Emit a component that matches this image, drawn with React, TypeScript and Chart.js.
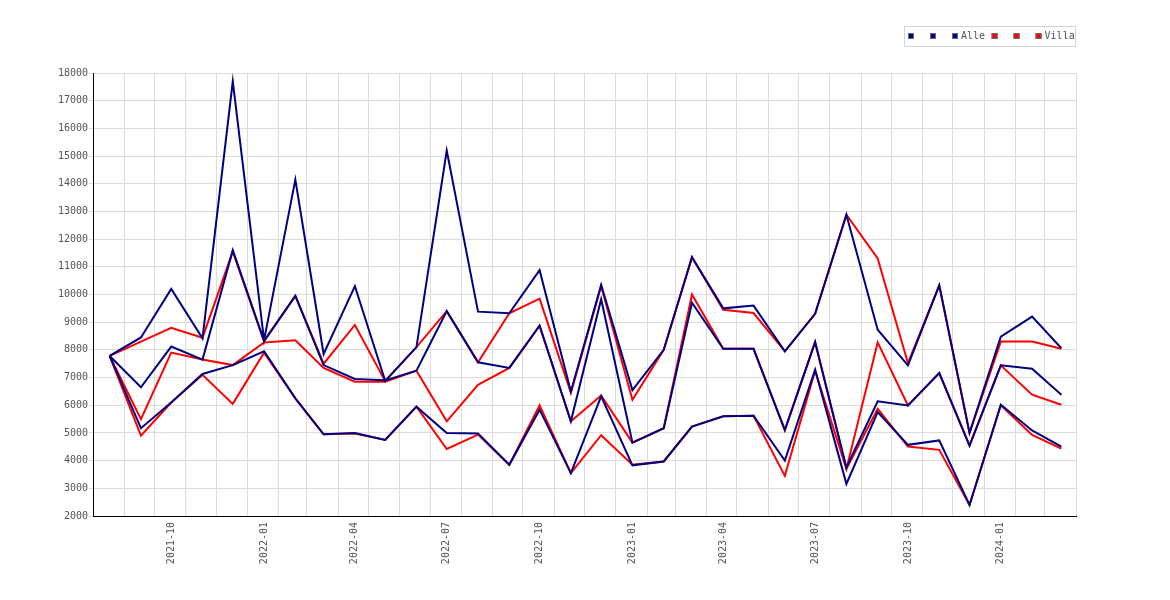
import React, { useEffect, useRef } from 'react';
import { Chart, registerables } from 'chart.js';

Chart.register(...registerables);

// ---------- data ----------
const months = [
  '2021-08', '2021-09', '2021-10', '2021-11', '2021-12',
  '2022-01', '2022-02', '2022-03', '2022-04', '2022-05', '2022-06', '2022-07', '2022-08', '2022-09', '2022-10', '2022-11', '2022-12',
  '2023-01', '2023-02', '2023-03', '2023-04', '2023-05', '2023-06', '2023-07', '2023-08', '2023-09', '2023-10', '2023-11', '2023-12',
  '2024-01', '2024-02', '2024-03',
];

const tickLabels = ['2021-10', '2022-01', '2022-04', '2022-07', '2022-10', '2023-01', '2023-04', '2023-07', '2023-10', '2024-01'];

const alleMax = [7780, 8450, 10200, 8420, 17700, 8350, 14150, 7850, 10300, 6880, 8100, 15200, 9380, 9320, 10880, 6500, 10350, 6550, 8000, 11350, 9500, 9600, 7950, 9300, 12880, 8730, 7440, 10330, 5000, 8480, 9200, 8060];
const alleMid = [7780, 6650, 8120, 7650, 11600, 8330, 9950, 7450, 6950, 6900, 7250, 9400, 7550, 7350, 8870, 5420, 9830, 4650, 5170, 9700, 8040, 8040, 5100, 8280, 3750, 6140, 5990, 7160, 4540, 7440, 7320, 6380];
const alleMin = [7780, 5170, 6100, 7130, 7450, 7950, 6250, 4950, 5000, 4750, 5950, 5000, 4980, 3850, 5840, 3550, 6320, 3830, 3970, 5230, 5600, 5620, 4000, 7280, 3160, 5750, 4570, 4730, 2400, 6020, 5090, 4510];

const villaMax = [7780, 8300, 8800, 8440, 11550, 8300, 9950, 7500, 8900, 6870, 8100, 9400, 7550, 9320, 9850, 6450, 10300, 6200, 8000, 11350, 9450, 9330, 7950, 9300, 12880, 11300, 7520, 10330, 5000, 8300, 8300, 8040];
const villaMid = [7780, 5500, 7900, 7650, 7450, 8270, 8350, 7350, 6850, 6850, 7250, 5420, 6740, 7350, 8870, 5420, 6350, 4650, 5170, 10000, 8040, 8040, 5100, 8280, 3700, 8270, 5990, 7160, 4540, 7440, 6380, 6020];
const villaMin = [7780, 4900, 6100, 7100, 6050, 7900, 6250, 4950, 4980, 4750, 5950, 4420, 4940, 3850, 6000, 3550, 4920, 3850, 3970, 5230, 5600, 5620, 3450, 7250, 3700, 5870, 4510, 4390, 2400, 6000, 4930, 4430];

const seriesLabels = ['', '', 'Alle', '', '', 'Villa'];

// ---------- styling ----------
const NAVY = '#000080';
const RED = '#ff0000';
const GRID = '#dcdcdc';
const TEXT = '#555555';
const FONT = '"DejaVu Sans Mono", "Liberation Mono", monospace';
const DAY = 86400000;

function monthStart(label: string, add = 0): number {
  const [y, m] = label.split('-').map(Number);
  return Date.UTC(y, m - 1 + add, 1);
}
function midMonth(label: string): number {
  return monthStart(label) + 16.5 * DAY;
}

const xMin = monthStart(months[0]);
const xMax = monthStart(months[months.length - 1], 1);

const gridTicks: number[] = months.map((m) => monthStart(m, 1));
const labelMap = new Map<number, string>();
tickLabels.forEach((l) => labelMap.set(midMonth(l), l));
const allTicks = [...gridTicks, ...Array.from(labelMap.keys())].sort((a, b) => a - b);
const gridSet = new Set(gridTicks);

function toXY(values: number[]) {
  return values.map((v, i) => ({ x: midMonth(months[i]), y: v }));
}

const legendPlugin = {
  id: 'boxLegend',
  afterDraw(chart: any) {
    const ctx = chart.ctx as CanvasRenderingContext2D;
    const ds = chart.data.datasets;
    ctx.save();
    ctx.font = `10px ${FONT}`;
    let contentW = 0;
    ds.forEach((d: any, i: number) => {
      const t = d.label as string;
      if (t) {
        contentW += 9 + ctx.measureText(t).width;
        if (i < ds.length - 1) contentW += 6.5;
      } else {
        contentW += 22;
      }
    });
    const right = chart.chartArea.right;
    const boxLeft = right - contentW - 5;
    const top = 26;
    const h = 20;
    ctx.strokeStyle = '#d4d4d4';
    ctx.lineWidth = 1;
    ctx.strokeRect(Math.round(boxLeft) + 0.5, top + 0.5, Math.round(right - boxLeft) - 1, h);
    let x = Math.round(boxLeft) + 4;
    ds.forEach((d: any) => {
      ctx.fillStyle = d.borderColor;
      ctx.fillRect(x, 33, 6, 6);
      ctx.strokeStyle = '#6a6a7a';
      ctx.strokeRect(x + 0.5, 33.5, 5, 5);
      const t = d.label as string;
      if (t) {
        ctx.fillStyle = TEXT;
        ctx.textBaseline = 'middle';
        ctx.textAlign = 'left';
        ctx.fillText(t, x + 9, 36.5);
        x += 9 + ctx.measureText(t).width + 6.5;
      } else {
        x += 22;
      }
    });
    ctx.restore();
  },
};

export default function App() {
  const ref = useRef<HTMLCanvasElement>(null);

  useEffect(() => {
    if (!ref.current) return;
    const mk = (label: string, data: number[], color: string) => ({
      label,
      data: toXY(data),
      borderColor: color,
      backgroundColor: color,
      borderWidth: 2,
      pointRadius: 0,
      pointHoverRadius: 0,
      tension: 0,
      fill: false,
    });
    const chart = new Chart(ref.current, {
      type: 'line',
      data: {
        datasets: [
          mk(seriesLabels[0], alleMax, NAVY),
          mk(seriesLabels[1], alleMid, NAVY),
          mk(seriesLabels[2], alleMin, NAVY),
          mk(seriesLabels[3], villaMax, RED),
          mk(seriesLabels[4], villaMid, RED),
          mk(seriesLabels[5], villaMin, RED),
        ],
      },
      options: {
        responsive: false,
        animation: false,
        devicePixelRatio: 1,
        layout: { padding: { left: 0, right: 94, top: 73, bottom: 0 } },
        plugins: {
          legend: { display: false },
          tooltip: { enabled: false },
        },
        scales: {
          x: {
            type: 'linear',
            min: xMin,
            max: xMax,
            afterBuildTicks: (s: any) => {
              s.ticks = allTicks.map((v) => ({ value: v }));
            },
            afterFit: (s: any) => {
              s.height = 84;
            },
            grid: {
              color: (c: any) => (c.tick && gridSet.has(c.tick.value) ? GRID : 'rgba(0,0,0,0)'),
              drawTicks: false,
              lineWidth: 1,
            },
            border: { color: '#000000', width: 1 },
            ticks: {
              autoSkip: false,
              maxRotation: 90,
              minRotation: 90,
              padding: 6,
              color: TEXT,
              font: { family: FONT, size: 10 },
              callback: (v: any) => labelMap.get(Number(v)) ?? '',
            },
          },
          y: {
            min: 2000,
            max: 18000,
            afterFit: (s: any) => {
              s.width = 93;
            },
            grid: { color: GRID, tickLength: 4, lineWidth: 1 },
            border: { color: '#000000', width: 1 },
            ticks: {
              stepSize: 1000,
              padding: 1,
              color: TEXT,
              font: { family: FONT, size: 10 },
              callback: (v: any) => String(v),
            },
          },
        },
      } as any,
      plugins: [legendPlugin],
    });
    return () => chart.destroy();
  }, []);

  return (
    <div style={{ position: 'fixed', left: 0, top: 0, width: 1170, height: 600, background: '#fff' }}>
      <canvas ref={ref} width={1170} height={600} style={{ width: 1170, height: 600, display: 'block' }} />
    </div>
  );
}
